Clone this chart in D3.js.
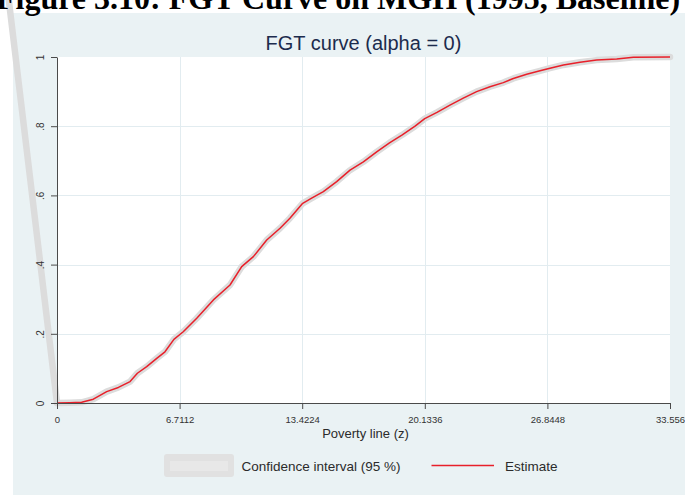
<!DOCTYPE html>
<html>
<head>
<meta charset="utf-8">
<script src="https://cdn.jsdelivr.net/npm/d3@7"></script>
<style>
  html, body { margin: 0; padding: 0; background: #ffffff; }
  svg { display: block; font-family: Arial, "Liberation Sans", sans-serif; }
</style>
</head>
<body>
<script>
// Poverty lines (z) and headcount estimates, FGT alpha = 0
const povertyLine = [0, 0.7, 1.35, 1.99, 2.72, 3.36, 4.00, 4.40, 4.91, 5.46, 5.91, 6.40, 6.91, 7.65, 8.56,
  9.47, 10.11, 10.75, 11.48, 12.21, 12.75, 13.45, 13.94, 14.58, 15.31, 16.04, 16.77, 17.50, 18.2, 18.9,
  19.6, 20.13, 20.8, 21.51, 22.24, 22.97, 23.70, 24.43, 24.98, 25.71, 26.44, 26.93, 27.72, 28.63, 29.54,
  30.64, 31.55, 33.556];
const estimate = [0, 0.001, 0.002, 0.011, 0.033, 0.045, 0.062, 0.086, 0.105, 0.129, 0.148, 0.184, 0.206,
  0.245, 0.298, 0.341, 0.394, 0.423, 0.471, 0.505, 0.534, 0.577, 0.592, 0.611, 0.640, 0.673, 0.697, 0.726,
  0.752, 0.775, 0.800, 0.822, 0.840, 0.861, 0.881, 0.900, 0.914, 0.926, 0.938, 0.950, 0.960, 0.967, 0.977,
  0.985, 0.991, 0.994, 0.999, 1.0];
// Stray opening vertex of the confidence band outline
const ciLeadZ = [-2.64];
const ciLeadP = [1.165];

const xTicks = [0, 6.7112, 13.4224, 20.1336, 26.8448, 33.556];
const xTickLabels = ["0", "6.7112", "13.4224", "20.1336", "26.8448", "33.556"];
const yTicks = [0, 0.2, 0.4, 0.6, 0.8, 1];
const yTickLabels = ["0", ".2", ".4", ".6", ".8", "1"];

const docTitle = "Figure 3.10: FGT Curve on MGH (1995, Baseline)";
const chartTitle = "FGT curve (alpha = 0)";
const xTitle = "Poverty line (z)";
const legendLabels = ["Confidence interval (95 %)", "Estimate"];

const W = 685, H = 497;
const plot = { left: 57, right: 670, top: 57, bottom: 403 };
const sans = "Arial, 'Liberation Sans', sans-serif";

const svg = d3.select("body").append("svg").attr("width", W).attr("height", H);
svg.append("rect").attr("width", W).attr("height", H).attr("fill", "#ffffff");

// graph region background
svg.append("rect").attr("x", 13).attr("y", 13).attr("width", W - 13).attr("height", 482)
  .attr("fill", "#eaf2f4");

const x = d3.scaleLinear().domain([0, 33.556]).range([plot.left, plot.right]);
const y = d3.scaleLinear().domain([0, 1]).range([plot.bottom, plot.top]);

// plot region
svg.append("rect").attr("x", plot.left).attr("y", plot.top)
  .attr("width", plot.right - plot.left).attr("height", plot.bottom - plot.top)
  .attr("fill", "#ffffff");

// grid
const grid = svg.append("g").attr("stroke", "#e2ecf0").attr("stroke-width", 1);
grid.selectAll("line.gx").data(xTicks.slice(1, -1)).join("line")
  .attr("x1", d => Math.round(x(d)) + 0.5).attr("x2", d => Math.round(x(d)) + 0.5)
  .attr("y1", plot.top).attr("y2", plot.bottom);
grid.selectAll("line.gy").data(yTicks.slice(1, -1)).join("line")
  .attr("y1", d => Math.round(y(d)) + 0.5).attr("y2", d => Math.round(y(d)) + 0.5)
  .attr("x1", plot.left).attr("x2", plot.right);

// series
const pts = povertyLine.map((z, i) => [z, estimate[i]]);
const ciPts = [[ciLeadZ[0], ciLeadP[0]]].concat(pts);
const line = d3.line().x(d => x(d[0])).y(d => y(d[1]));

svg.append("path").attr("d", line(ciPts))
  .attr("fill", "none").attr("stroke", "#dcdcdc").attr("stroke-width", 6.5)
  .attr("stroke-linejoin", "round").attr("stroke-linecap", "round");
svg.append("path").attr("d", line(pts))
  .attr("fill", "none").attr("stroke", "#e8202a").attr("stroke-width", 1.5)
  .attr("stroke-linejoin", "round");

// axes
const axisColor = "#4a4a4a";
const gx = svg.append("g").attr("transform", `translate(0,${plot.bottom})`)
  .call(d3.axisBottom(x).tickValues(xTicks).tickSize(6).tickSizeOuter(0)
    .tickFormat((d, i) => xTickLabels[i]));
gx.select(".domain").attr("stroke", axisColor);
gx.selectAll(".tick line").attr("stroke", axisColor);
gx.selectAll(".tick text").attr("fill", "#333").attr("font-size", 9.5)
  .attr("font-family", sans).attr("y", 13).attr("dy", "0.71em");

const gy = svg.append("g").attr("transform", `translate(${plot.left},0)`)
  .call(d3.axisLeft(y).tickValues(yTicks).tickSize(6).tickSizeOuter(0)
    .tickFormat((d, i) => yTickLabels[i]));
gy.select(".domain").attr("stroke", axisColor);
gy.selectAll(".tick line").attr("stroke", axisColor);
gy.selectAll(".tick text").attr("fill", "#333").attr("font-size", 10)
  .attr("font-family", sans)
  .attr("x", null)
  .attr("text-anchor", "middle")
  .attr("transform", "translate(-17,0) rotate(-90)")
  .attr("dy", "0.35em");

// titles
svg.append("text").attr("x", 363.5).attr("y", 50).attr("text-anchor", "middle")
  .attr("font-size", 20).attr("fill", "#1c2b4d").text(chartTitle);
svg.append("text").attr("x", 365.5).attr("y", 438).attr("text-anchor", "middle")
  .attr("font-size", 13).attr("fill", "#2b2b2b").text(xTitle);

// legend
svg.append("rect").attr("x", 164).attr("y", 454).attr("width", 70).attr("height", 23).attr("rx", 3)
  .attr("fill", "#e1e1e1");
svg.append("rect").attr("x", 170).attr("y", 461).attr("width", 58).attr("height", 10)
  .attr("fill", "#e8e8e8");
svg.append("text").attr("x", 241.5).attr("y", 470.5).attr("font-size", 13.5).attr("fill", "#2b2b2b")
  .text(legendLabels[0]);
svg.append("line").attr("x1", 431.5).attr("x2", 494).attr("y1", 465.5).attr("y2", 465.5)
  .attr("stroke", "#e8202a").attr("stroke-width", 1.5);
svg.append("text").attr("x", 505).attr("y", 470.5).attr("font-size", 13.5).attr("fill", "#2b2b2b")
  .text(legendLabels[1]);

// document caption above the graph
svg.append("text").attr("x", -4).attr("y", 9)
  .style("font-family", "'Liberation Serif', 'Times New Roman', serif")
  .attr("font-weight", "bold").attr("font-size", 32).attr("fill", "#000")
  .text(docTitle);
</script>
</body>
</html>
